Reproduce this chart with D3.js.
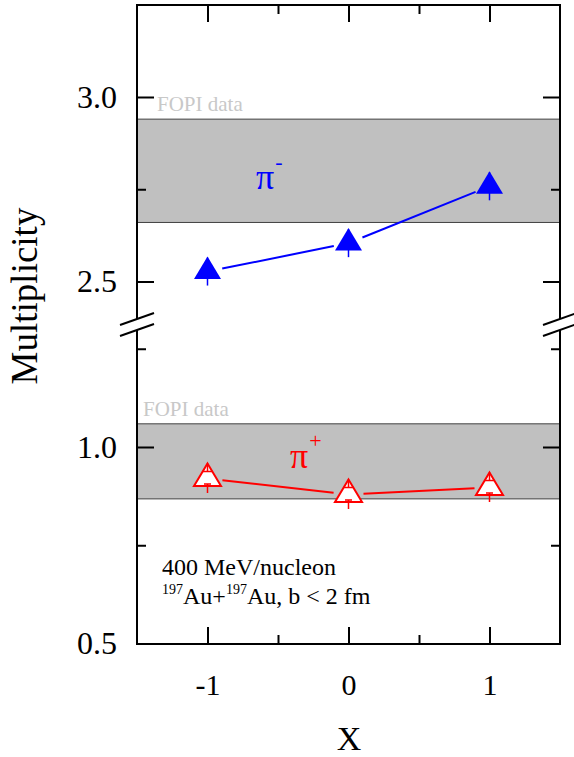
<!DOCTYPE html>
<html>
<head>
<meta charset="utf-8">
<script src="https://cdn.jsdelivr.net/npm/d3@7"></script>
<style>
  body { margin: 0; background: #fff; }
  text { font-family: "Liberation Serif", "Times New Roman", serif; }
</style>
</head>
<body>
<div id="chart"></div>
<script>
// data
var xVals = [-1, 0, 1];
var piMinus = [2.527, 2.604, 2.758];
var piPlus = [0.92, 0.879, 0.897];
var errMinus = [0.038, 0.038, 0.038];
var errPlus = [0.037, 0.037, 0.037];
var fopiMinus = [2.66, 2.94];
var fopiPlus = [0.868, 1.059];
var xTicks = [-1, 0, 1];
var xMinor = [-0.5, 0.5];
var yUpTicks = [2.5, 3.0];
var yUpMinor = [2.75];
var yLoTicks = [0.5, 1.0];
var yLoMinor = [0.75, 1.25];

var W = 574, H = 757;
var pLeft = 137, pRight = 560, pTop = 5, pBottom = 644;

var svg = d3.select('#chart').append('svg')
    .attr('width', W)
    .attr('height', H);

var x = d3.scaleLinear().domain([-1.5, 1.5]).range([pLeft, pRight]);
// broken y axis: two segments
var yUp = d3.scaleLinear().domain([2.5, 3.0]).range([281.5, 97]);
var yLo = d3.scaleLinear().domain([0.5, 1.0]).range([643.5, 447]);
var upBreak = 319, loBreak = 330;

// FOPI bands
function band(y, vals, label, lx) {
    svg.append('rect')
        .attr('x', pLeft).attr('width', pRight - pLeft)
        .attr('y', y(vals[1])).attr('height', y(vals[0]) - y(vals[1]))
        .attr('fill', '#c0c0c0');
    [vals[0], vals[1]].forEach(function (v) {
        svg.append('line')
            .attr('x1', pLeft).attr('x2', pRight)
            .attr('y1', y(v)).attr('y2', y(v))
            .attr('stroke', '#404040').attr('stroke-width', 1);
    });
    svg.append('text')
        .attr('x', lx).attr('y', y(vals[1]) - 8)
        .attr('font-size', 21).attr('fill', '#c8c8c8')
        .text(label);
}
band(yUp, fopiMinus, 'FOPI data', 157);
band(yLo, fopiPlus, 'FOPI data', 143);

function styleTicks(g) {
    g.select('.domain').remove();
    g.selectAll('line').attr('stroke-width', 2);
}

// ticks (inside, mirrored)
function yTicks(y, major, minor) {
    svg.append('g').attr('transform', 'translate(' + pLeft + ',0)')
        .call(d3.axisLeft(y).tickValues(major).tickSize(-17).tickPadding(20).tickFormat(d3.format('.1f')))
        .call(function (g) {
            styleTicks(g);
            g.selectAll('text').attr('font-size', 32).attr('fill', '#000');
        });
    svg.append('g').attr('transform', 'translate(' + pLeft + ',0)')
        .call(d3.axisLeft(y).tickValues(minor).tickSize(-9).tickFormat(''))
        .call(styleTicks);
    svg.append('g').attr('transform', 'translate(' + pRight + ',0)')
        .call(d3.axisRight(y).tickValues(major).tickSize(-17).tickFormat(''))
        .call(styleTicks);
    svg.append('g').attr('transform', 'translate(' + pRight + ',0)')
        .call(d3.axisRight(y).tickValues(minor).tickSize(-9).tickFormat(''))
        .call(styleTicks);
}
yTicks(yUp, yUpTicks, yUpMinor);
yTicks(yLo, yLoTicks, yLoMinor);

svg.append('g').attr('transform', 'translate(0,' + pBottom + ')')
    .call(d3.axisBottom(x).tickValues(xTicks).tickSize(-17).tickPadding(30)
        .tickFormat(function (d) { return String(d); }))
    .call(function (g) {
        styleTicks(g);
        g.selectAll('text').attr('font-size', 30).attr('fill', '#000');
    });
svg.append('g').attr('transform', 'translate(0,' + pBottom + ')')
    .call(d3.axisBottom(x).tickValues(xMinor).tickSize(-9).tickFormat(''))
    .call(styleTicks);
svg.append('g').attr('transform', 'translate(0,' + pTop + ')')
    .call(d3.axisTop(x).tickValues(xTicks).tickSize(-17).tickFormat(''))
    .call(styleTicks);
svg.append('g').attr('transform', 'translate(0,' + pTop + ')')
    .call(d3.axisTop(x).tickValues(xMinor).tickSize(-9).tickFormat(''))
    .call(styleTicks);

// frame with break
var frame = svg.append('g').attr('stroke', '#000').attr('stroke-width', 2).attr('fill', 'none');
frame.append('path').attr('d', 'M' + pLeft + ',' + upBreak + 'V' + pTop + 'H' + pRight + 'V' + upBreak);
frame.append('path').attr('d', 'M' + pLeft + ',' + loBreak + 'V' + pBottom + 'H' + pRight + 'V' + loBreak);
[pLeft, pRight].forEach(function (ax) {
    [upBreak, loBreak].forEach(function (by) {
        frame.append('line')
            .attr('x1', ax - 17).attr('y1', by + 6)
            .attr('x2', ax + 17).attr('y2', by - 6);
    });
});

// lines between points, with gaps around markers
function series(y, vals, color) {
    var pts = xVals.map(function (d, i) { return [x(d), y(vals[i])]; });
    var gap = 15;
    for (var i = 0; i < pts.length - 1; i++) {
        var a = pts[i], b = pts[i + 1];
        var dx = b[0] - a[0], dy = b[1] - a[1], len = Math.sqrt(dx * dx + dy * dy);
        svg.append('line')
            .attr('x1', a[0] + dx / len * gap).attr('y1', a[1] + dy / len * gap)
            .attr('x2', b[0] - dx / len * gap).attr('y2', b[1] - dy / len * gap)
            .attr('stroke', color).attr('stroke-width', 2);
    }
    return pts;
}

var hw = 13.5, th = 22.5;
function triPath(cx, cy) {
    return 'M' + cx + ',' + (cy - th * 2 / 3) +
        'L' + (cx + hw) + ',' + (cy + th / 3) +
        'L' + (cx - hw) + ',' + (cy + th / 3) + 'Z';
}

// pi- : filled blue triangles
series(yUp, piMinus, '#0000ff');
svg.selectAll('.errM').data(xVals).enter().append('line')
    .attr('x1', function (d) { return x(d); }).attr('x2', function (d) { return x(d); })
    .attr('y1', function (d, i) { return yUp(piMinus[i] + errMinus[i]); })
    .attr('y2', function (d, i) { return yUp(piMinus[i] - errMinus[i]); })
    .attr('stroke', '#0000ff').attr('stroke-width', 1.5);
svg.selectAll('.triM').data(xVals).enter().append('path')
    .attr('d', function (d, i) { return triPath(x(d), yUp(piMinus[i])); })
    .attr('fill', '#0000ff');

// pi+ : open red triangles
series(yLo, piPlus, '#ff0000');
var gP = svg.selectAll('.triP').data(xVals).enter().append('g')
    .attr('transform', function (d, i) { return 'translate(' + x(d) + ',' + yLo(piPlus[i]) + ')'; });
gP.append('path')
    .attr('d', triPath(0, 0))
    .attr('fill', '#fff').attr('stroke', '#ff0000').attr('stroke-width', 2);
gP.append('path')
    .attr('d', function (d, i) {
        var e = yLo(piPlus[i] - errPlus[i]) - yLo(piPlus[i]);
        var apex = -th * 2 / 3, inner = apex + 8, iw = hw * 8 / th;
        return 'M0,' + apex + 'V' + inner + 'M' + (-iw) + ',' + inner + 'H' + iw +
            'M-3.5,5.5H3.5M0,5.5V' + e;
    })
    .attr('fill', 'none').attr('stroke', '#ff0000').attr('stroke-width', 1.5);

// series labels
var lm = svg.append('text').attr('x', 256).attr('y', 189).attr('fill', '#0000ff').attr('font-size', 36);
lm.append('tspan').text('π');
lm.append('tspan').attr('font-size', 22).attr('dy', -20).attr('dx', 1).text('-');
var lp = svg.append('text').attr('x', 290).attr('y', 468).attr('fill', '#ff0000').attr('font-size', 36);
lp.append('tspan').text('π');
lp.append('tspan').attr('font-size', 22).attr('dy', -20).attr('dx', 1).text('+');

// annotation
svg.append('text').attr('x', 162).attr('y', 575).attr('font-size', 24).text('400 MeV/nucleon');
var t2 = svg.append('text').attr('x', 162).attr('y', 604).attr('font-size', 24);
t2.append('tspan').attr('font-size', 14).attr('dy', -10).text('197');
t2.append('tspan').attr('dy', 10).text('Au+');
t2.append('tspan').attr('font-size', 14).attr('dy', -10).text('197');
t2.append('tspan').attr('dy', 10).text('Au, b < 2 fm');

// axis titles
svg.append('text')
    .attr('transform', 'translate(37,' + 296 + ') rotate(-90)')
    .attr('text-anchor', 'middle').attr('font-size', 37)
    .text('Multiplicity');
svg.append('text')
    .attr('x', 349).attr('y', 750)
    .attr('text-anchor', 'middle').attr('font-size', 34)
    .text('X');
</script>
</body>
</html>
